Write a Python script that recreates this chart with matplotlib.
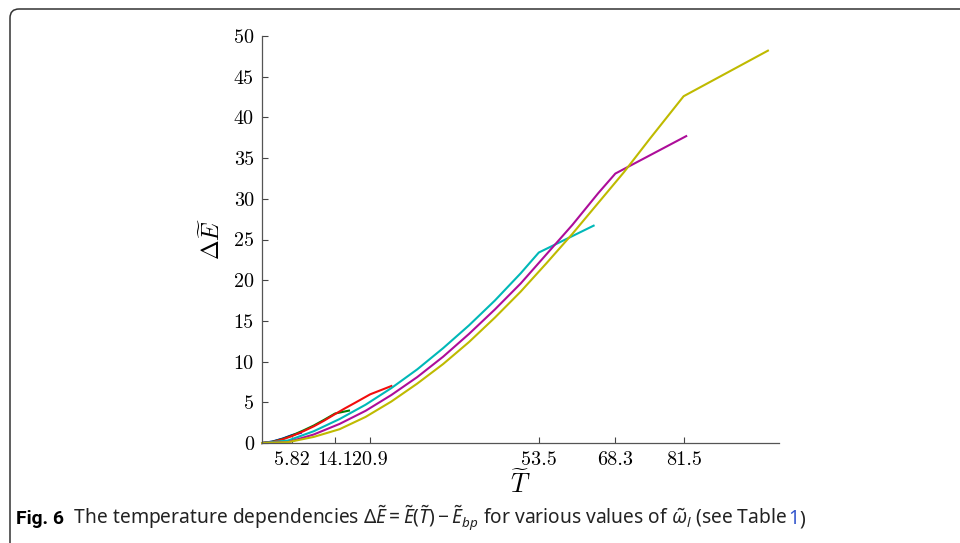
import numpy as np
import matplotlib
matplotlib.use("Agg")
from matplotlib import pyplot as plt
from matplotlib.patches import FancyBboxPatch
from matplotlib.transforms import IdentityTransform

plt.rcParams['mathtext.fontset'] = 'custom'
plt.rcParams['mathtext.rm'] = 'Noto Sans'
plt.rcParams['mathtext.it'] = 'Noto Sans:italic'
plt.rcParams['mathtext.bf'] = 'Noto Sans:bold'

# curves: (T, dE) for each omega_l
t_blue = [0, 2, 4, 5.82, 7.5]
e_blue = [0, 0.18, 0.55, 0.98, 1.25]

t_green = [0, 2, 4, 5.82, 8, 10, 12, 14.1, 16.8]
e_green = [0, 0.16, 0.52, 0.94, 1.55, 2.15, 2.85, 3.62, 3.98]

t_red = [0, 2, 4, 5.82, 8, 10, 12, 14.1, 16, 18, 20.9, 25]
e_red = [0, 0.12, 0.45, 0.86, 1.45, 2.05, 2.75, 3.55, 4.25, 4.95, 5.98, 7.0]

t_cyan = [0, 5, 10, 15, 20, 25, 30, 35, 40, 45, 50, 53.5, 64.1]
e_cyan = [0, 0.3, 1.45, 2.95, 4.7, 6.75, 9.05, 11.65, 14.45, 17.5, 20.85, 23.4, 26.7]

t_mag = [0, 5, 10, 15, 20, 25, 30, 35, 40, 45, 50, 55, 60, 65, 68.3, 82.0]
e_mag = [0, 0.1, 1.05, 2.35, 3.95, 5.9, 8.1, 10.6, 13.4, 16.4, 19.6, 23.2, 26.8, 30.7, 33.1, 37.7]

t_yel = [0, 5, 10, 15, 20, 25, 30, 35, 40, 45, 50, 55, 60, 65, 70, 75, 81.5, 97.8]
e_yel = [0, 0.1, 0.75, 1.7, 3.2, 5.1, 7.3, 9.7, 12.4, 15.4, 18.6, 22.1, 25.7, 29.5, 33.3, 37.4, 42.6, 48.2]

series = [
    (t_blue, e_blue, (0, 0, 1)),
    (t_green, e_green, (0, 0.5, 0)),
    (t_red, e_red, (0.95, 0.05, 0.05)),
    (t_cyan, e_cyan, (0, 0.72, 0.72)),
    (t_mag, e_mag, (0.68, 0.05, 0.6)),
    (t_yel, e_yel, (0.75, 0.73, 0)),
]

x_ticks = [5.82, 14.1, 20.9, 53.5, 68.3, 81.5]
x_tick_labels = ['5.82', '14.1', '20.9', '53.5', '68.3', '81.5']
y_ticks = [0, 5, 10, 15, 20, 25, 30, 35, 40, 45, 50]

fig = plt.figure(figsize=(9.6, 5.43), dpi=100)
ax = fig.add_axes([262.1 / 960, 1 - 443 / 543, 517.2 / 960, 407 / 543])

for t, e, c in series:
    ax.plot(t, e, color=c, lw=1.5, clip_on=False, solid_joinstyle='round')

ax.set_xlim(0, 100)
ax.set_ylim(0, 50)
ax.set_xticks(x_ticks)
ax.set_xticklabels(x_tick_labels)
ax.set_yticks(y_ticks)
ax.set_yticklabels([str(v) for v in y_ticks])
for lab in ax.get_xticklabels() + ax.get_yticklabels():
    lab.set_fontfamily('cmr10')
    lab.set_fontsize(14.5)
ax.tick_params(direction='in', length=4, width=0.8, color='#444444')
ax.tick_params(axis='x', pad=6)
ax.tick_params(axis='y', pad=6)
for s in ['top', 'right']:
    ax.spines[s].set_visible(False)
for s in ['left', 'bottom']:
    ax.spines[s].set_color('#555555')
    ax.spines[s].set_linewidth(0.9)

ax.set_xlabel(r'$\widetilde{T}$', fontsize=19, math_fontfamily='cm', labelpad=1)
ax.set_ylabel(r'$\Delta\widetilde{E}$', fontsize=17, math_fontfamily='cm', labelpad=6)

# frame around figure, cut off at the right and bottom
frame = FancyBboxPatch((10, -30), 990, 564, boxstyle="round,pad=0,rounding_size=9",
                       transform=IdentityTransform(), fill=False,
                       edgecolor='#333333', lw=1.1)
fig.add_artist(frame)

# caption, pieces laid one after another on the same baseline
pieces = [
    ("Fig. 6", ['Roboto', 'DejaVu Sans'], 'bold', 'black'),
    ("  The temperature dependencies $\\Delta\\tilde{E}=\\tilde{E}(\\tilde{T})-\\tilde{E}_{bp}$"
     " for various values of $\\tilde{\\omega}_l$ (see Table ", ['Noto Sans'], 'normal', '#222222'),
    ("1", ['Noto Sans'], 'normal', '#3355cc'),
    (")", ['Noto Sans'], 'normal', '#222222'),
]
renderer = fig.canvas.get_renderer()
x = 16
for s, fam, w, c in pieces:
    txt = fig.text(x / 960, 1 - 524 / 543, s, fontsize=13.85, family=fam,
                   weight=w, color=c, va='baseline', ha='left')
    x = txt.get_window_extent(renderer).x1

fig.savefig('out.png', dpi=100)
